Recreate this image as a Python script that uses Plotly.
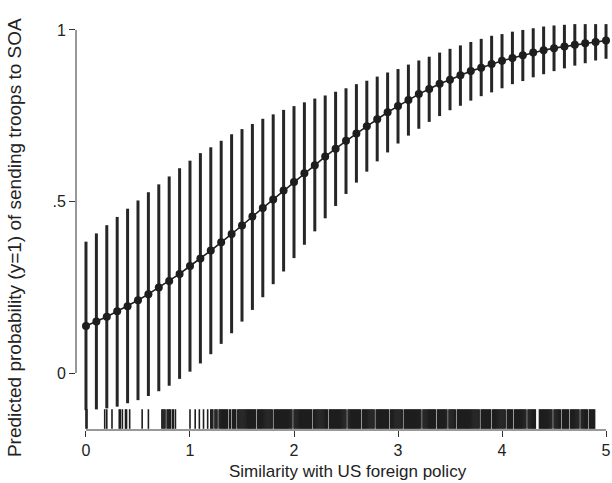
import plotly.graph_objects as go

# ---- data ----
similarity = [0.0, 0.1, 0.2, 0.3, 0.4, 0.5, 0.6, 0.7, 0.8, 0.9,
              1.0, 1.1, 1.2, 1.3, 1.4, 1.5, 1.6, 1.7, 1.8, 1.9,
              2.0, 2.1, 2.2, 2.3, 2.4, 2.5, 2.6, 2.7, 2.8, 2.9,
              3.0, 3.1, 3.2, 3.3, 3.4, 3.5, 3.6, 3.7, 3.8, 3.9,
              4.0, 4.1, 4.2, 4.3, 4.4, 4.5, 4.6, 4.7, 4.8, 4.9, 5.0]

pred_prob = [0.137, 0.150, 0.164, 0.180, 0.195, 0.212, 0.230, 0.249, 0.268, 0.289,
             0.312, 0.334, 0.357, 0.381, 0.405, 0.430, 0.456, 0.481, 0.506, 0.532,
             0.557, 0.582, 0.606, 0.631, 0.654, 0.677, 0.698, 0.719, 0.740, 0.760,
             0.778, 0.796, 0.813, 0.828, 0.843, 0.855, 0.868, 0.880, 0.890, 0.901,
             0.910, 0.918, 0.926, 0.934, 0.941, 0.947, 0.952, 0.957, 0.961, 0.965, 0.969]

ci_upper = [0.383, 0.407, 0.431, 0.455, 0.479, 0.503, 0.527, 0.550, 0.573, 0.597,
            0.619, 0.641, 0.658, 0.677, 0.696, 0.711, 0.726, 0.741, 0.754, 0.767,
            0.778, 0.789, 0.800, 0.809, 0.820, 0.830, 0.842, 0.852, 0.864, 0.876,
            0.886, 0.899, 0.911, 0.922, 0.934, 0.945, 0.955, 0.965, 0.974, 0.983,
            0.988, 0.995, 1.000, 1.005, 1.010, 1.013, 1.015, 1.017, 1.017, 1.017, 1.017]

ci_lower = [-0.108, -0.106, -0.103, -0.098, -0.088, -0.079, -0.067, -0.053, -0.037, -0.017,
            0.004, 0.028, 0.055, 0.085, 0.116, 0.150, 0.184, 0.221, 0.259, 0.296,
            0.335, 0.374, 0.413, 0.451, 0.487, 0.522, 0.555, 0.587, 0.617, 0.643,
            0.669, 0.692, 0.712, 0.732, 0.749, 0.766, 0.779, 0.794, 0.807, 0.818,
            0.830, 0.842, 0.851, 0.862, 0.871, 0.880, 0.888, 0.896, 0.903, 0.911, 0.916]

# observed values of the similarity measure (rug), in hundredths
rug_obs_hundredths = [
    0, 1, 18, 20, 25, 32, 33, 35, 38, 39, 42, 54, 60,
    73, 74, 75, 76, 78, 79, 80, 81, 83, 84, 86,
    100, 105, 109, 113, 117, 120, 121, 122, 124, 125, 126, 128, 129, 130, 131, 132, 133, 134,
    135, 136, 138, 139, 141, 142, 143, 144, 146, 147, 148, 149, 150, 151, 152, 153, 154, 155,
    156, 157, 158, 159, 160, 161, 162, 163, 165, 166, 167, 168, 169, 170, 171, 172, 173, 174,
    175, 176, 177, 178, 179, 181, 182, 183, 184, 185, 186, 187, 188, 189, 190, 191, 192, 193,
    194, 195, 196, 197, 198, 200, 201, 202, 203, 204, 205, 206, 207, 208, 209, 210, 211, 212,
    213, 214, 215, 216, 217, 219, 220, 221, 222, 223, 224, 225, 226, 227, 228, 229, 230, 231,
    232, 234, 235, 236, 237, 238, 239, 240, 241, 242, 243, 244, 245, 246, 247, 248, 249, 250,
    252, 253, 254, 255, 256, 257, 258, 259, 260, 261, 262, 263, 264, 266, 267, 268, 269, 270,
    271, 272, 273, 274, 275, 276, 277, 279, 280, 281, 282, 283, 284, 285, 286, 287, 288, 289,
    290, 291, 293, 294, 295, 296, 297, 298, 299, 300, 301, 302, 303, 304, 306, 307, 308, 309,
    310, 311, 312, 313, 314, 315, 316, 317, 318, 319, 320, 321, 322, 324, 325, 326, 327, 328,
    329, 330, 331, 332, 333, 334, 335, 336, 338, 339, 340, 341, 342, 343, 344, 345, 346, 347,
    349, 350, 351, 352, 353, 354, 355, 357, 358, 359, 360, 361, 362, 363, 364, 365, 366, 367,
    368, 369, 370, 371, 372, 373, 374, 375, 376, 377, 378, 380, 381, 382, 383, 384, 385, 386,
    387, 388, 389, 391, 392, 393, 394, 395, 396, 397, 398, 399, 400, 401, 402, 403, 405, 406,
    407, 408, 409, 410, 412, 413, 414, 415, 416, 417, 418, 419, 420, 421, 422, 423, 425, 426,
    427, 428, 429, 430, 431, 432, 436, 437, 438, 439, 440, 441, 442, 443, 444, 445, 446, 447,
    448, 450, 451, 452, 453, 454, 455, 456, 458, 459, 460, 461, 462, 463, 464, 466, 467, 468,
    469, 470, 471, 472, 473, 474, 476, 477, 478, 479, 480, 481, 482, 484, 485, 486, 487, 488, 489,
]

x_tick_vals = [0, 1, 2, 3, 4, 5]
x_tick_text = ["0", "1", "2", "3", "4", "5"]
y_tick_vals = [0, 0.5, 1]
y_tick_text = ["0", ".5", "1"]

x_title = "Similarity with US foreign policy"
y_title = "Predicted probability (y=1) of sending troops to SOA"

RUG_LEVEL = -0.134

# ---- figure ----
INK = "#1e1e1e"
FONT = "Liberation Sans, Arial, sans-serif"

err_plus = [u - p for u, p in zip(ci_upper, pred_prob)]
err_minus = [p - l for p, l in zip(pred_prob, ci_lower)]
rug_x = [v / 100 for v in rug_obs_hundredths]

fig = go.Figure()

fig.add_trace(go.Scatter(
    x=similarity, y=pred_prob, mode="lines+markers",
    line=dict(color=INK, width=1.6),
    marker=dict(color=INK, size=8),
    error_y=dict(type="data", symmetric=False, array=err_plus, arrayminus=err_minus,
                 thickness=3, width=0, color="#262626"),
    showlegend=False, hoverinfo="skip", cliponaxis=False,
))

fig.add_trace(go.Scatter(
    x=rug_x, y=[RUG_LEVEL] * len(rug_x), mode="markers",
    marker=dict(symbol="line-ns", size=14, line=dict(width=1.6, color="#1e1e1e")),
    showlegend=False, hoverinfo="skip",
))

# Stata-style axis lines spanning only the labelled range
fig.add_shape(type="line", xref="paper", yref="y", x0=0, x1=0, y0=0, y1=1,
              line=dict(color="#333333", width=1))
fig.add_shape(type="line", xref="x", yref="paper", x0=0, x1=5, y0=0, y1=0,
              line=dict(color="#333333", width=1))

fig.add_annotation(text=y_title, xref="paper", yref="paper", x=0, y=0.468,
                   xshift=-62, textangle=-90, showarrow=False,
                   xanchor="center", yanchor="middle",
                   font=dict(family=FONT, size=19, color="#222222"))
fig.add_annotation(text=x_title, xref="x", yref="paper", x=2.52, y=0,
                   yshift=-41, showarrow=False, xanchor="center", yanchor="middle",
                   font=dict(family=FONT, size=17, color="#222222"))

fig.update_layout(
    width=612, height=483,
    margin=dict(l=76, r=4, t=20, b=53, autoexpand=False),
    paper_bgcolor="white", plot_bgcolor="white",
    font=dict(family=FONT, size=16, color="#222222"),
    xaxis=dict(range=[-0.096, 5.019], tickvals=x_tick_vals, ticktext=x_tick_text,
               ticks="outside", ticklen=6, tickcolor="#333333", tickwidth=1,
               showgrid=False, zeroline=False, showline=False, automargin=False),
    yaxis=dict(range=[-0.166, 1.029], tickvals=y_tick_vals, ticktext=y_tick_text,
               ticks="outside", ticklen=6, tickcolor="#333333", tickwidth=1,
               showgrid=False, zeroline=False, showline=False, automargin=False),
)

fig.write_html(
    "out.html",
    config={"displayModeBar": False, "staticPlot": True},
    post_script="document.body.style.margin='0px';document.body.style.overflow='hidden';",
)
